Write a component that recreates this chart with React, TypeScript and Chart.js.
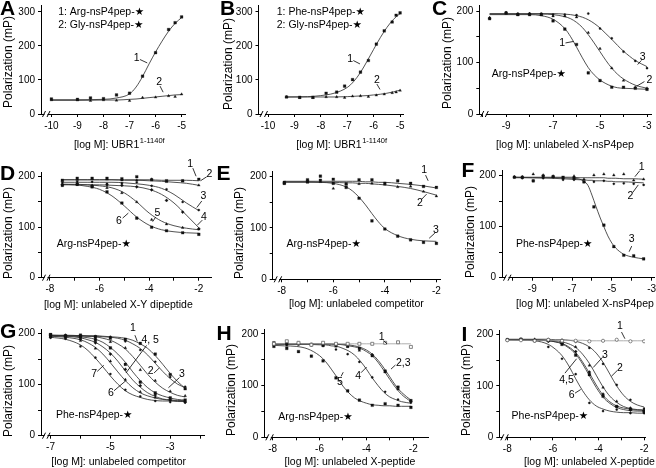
import React, { useEffect, useRef } from "react";
import { Chart, registerables } from "chart.js";

Chart.register(...registerables);

const FONT = "'Liberation Sans', Arial, Helvetica, 'DejaVu Sans', sans-serif";
const STAR = "\u2605";
const W = 656;
const H = 468;
const YW = 30;
const XH = 20;

// ---------- Panel A ----------
const A_X = [-10, -9, -8.5, -8, -7.5, -7, -6.5, -6, -5.5, -5.25, -5];
const A_ARG = [44, 43, 47, 45, 56, 61, 111, 180, 248, 268, 285];
const A_GLY = [41, 41, 39, 41, 40, 39, 48, 49, 53, 51, 58];
const A_FX = [-10, -9, -8, -7.5, -7, -6.75, -6.5, -6.25, -6, -5.75, -5.5, -5.25, -5];
const A_ARG_FIT = [42, 42, 43, 47, 59, 79, 110, 147, 182, 214, 243, 266, 283];
const A_GLY_FIT = [40, 40, 41, 41, 43, 44, 46, 48, 50, 52, 54, 56, 57];

// ---------- Panel B ----------
const B_X = [-9.3, -8.8, -8.3, -7.8, -7.4, -7.1, -6.8, -6.5, -6.2, -5.9, -5.6, -5.3, -5.15, -5];
const B_PHE = [50, 49, 49, 61, 64, 82, 101, 123, 157, 205, 244, 270, 290, 297];
const B_GLY = [50, 48, 48, 50, 50, 48, 52, 53, 51, 55, 58, 62, 64, 69];
const B_FX = [-9.3, -8.5, -8, -7.5, -7, -6.75, -6.5, -6.25, -6, -5.75, -5.5, -5.25, -5];
const B_PHE_FIT = [50, 51, 54, 61, 78, 96, 122, 155, 190, 224, 254, 278, 295];
const B_GLY_FIT = [50, 50, 50, 50, 51, 52, 53, 54, 56, 58, 61, 65, 70];

// ---------- Panel C ----------
const C_X = [-9.7, -9, -8.5, -8, -7.5, -7, -6.5, -6, -5.5, -5, -4.5, -4, -3.5, -3];
const C_S1 = [185, 196, 193, 193, 193, 181, 165, 135, 80, 65, 52, 52, 50, 48];
const C_S2 = [187, 197, 193, 195, 193, 190, 190, 188, 158, 127, 89, 65, 52, 50];
const C_S3 = [186, 197, 195, 195, 195, 193, 193, 192, 195, 166, 147, 121, 103, 89];
const C_FX = [-9.7, -9, -8, -7.5, -7, -6.5, -6.25, -6, -5.75, -5.5, -5.25, -5, -4.75, -4.5, -4.25, -4, -3.5, -3];
const C_FIT1 = [193, 193, 193, 191, 184, 166, 150, 130, 109, 90, 76, 66, 59, 54, 51, 50, 49, 48];
const C_FIT2 = [194, 194, 194, 194, 193, 189, 185, 178, 168, 154, 138, 121, 104, 89, 77, 68, 56, 50];
const C_FIT3 = [195, 195, 195, 195, 195, 194, 193, 191, 188, 183, 176, 167, 156, 145, 133, 122, 104, 92];

// ---------- Panel D ----------
const D_X = [-7.5, -6.9, -6.3, -5.7, -5.1, -4.5, -3.9, -3.3, -2.65, -2];
const D_S1 = [193, 197, 197, 197, 196, 200, 194, 192, 192, 195];
const D_S2 = [192, 194, 196, 195, 193, 193, 195, 190, 191, 183];
const D_S3 = [188, 190, 190, 186, 187, 189, 182, 175, 150, 134];
const D_S4 = [184, 185, 182, 184, 183, 180, 174, 153, 130, 97];
const D_S5 = [185, 186, 182, 178, 168, 150, 115, 106, 99, 96];
const D_S6 = [183, 185, 180, 170, 148, 118, 100, 93, 89, 86];
const D_FX = [-7.5, -7, -6.5, -6, -5.5, -5, -4.5, -4, -3.5, -3, -2.5, -2];
const D_FIT1 = [194, 194, 194, 194, 194, 194, 194, 194, 193, 193, 193, 192];
const D_FIT2 = [194, 194, 194, 194, 194, 193, 193, 192, 191, 189, 187, 183];
const D_FIT3 = [189, 189, 189, 189, 189, 188, 186, 183, 177, 165, 148, 133];
const D_FIT4 = [184, 184, 184, 184, 183, 182, 180, 175, 165, 148, 124, 99];
const D_FIT5 = [185, 185, 184, 182, 178, 168, 150, 128, 112, 103, 98, 95];
const D_FIT6 = [185, 184, 181, 175, 162, 142, 120, 104, 95, 91, 89, 88];

// ---------- Panel E ----------
const E_X = [-7.9, -7, -6.5, -6, -5.5, -5, -4.5, -4, -3.5, -3, -2.5, -2];
const E_S1 = [189, 194, 201, 195, 186, 194, 194, 187, 192, 187, 181, 179];
const E_S2 = [187, 189, 190, 177, 185, 186, 187, 185, 180, 181, 171, 162];
const E_S3 = [187, 190, 193, 187, 179, 158, 114, 98, 84, 77, 72, 70];
const E_FX = [-7.9, -7, -6.5, -6, -5.5, -5.25, -5, -4.75, -4.5, -4.25, -4, -3.5, -3, -2.5, -2];
const E_FIT1 = [191, 191, 191, 191, 191, 191, 191, 190, 190, 189, 189, 187, 185, 182, 178];
const E_FIT2 = [189, 189, 189, 189, 188, 188, 187, 187, 186, 185, 184, 181, 177, 171, 164];
const E_FIT3 = [190, 190, 189, 187, 180, 172, 160, 145, 128, 112, 99, 85, 78, 75, 74];

// ---------- Panel F ----------
const F_X = [-9.9, -9.5, -8.95, -8.45, -7.95, -7.45, -6.9, -6.4, -5.9, -5.4, -4.9, -4.4, -3.9, -3.4];
const F_S1 = [198, 198, 203, 201, 199, 195, 199, 193, 201, 203, 201, 203, 191, 193];
const F_S2 = [197, 195, 190, 195, 197, 192, 192, 188, 188, 190, 184, 185, 184, 182];
const F_S3 = [197, 197, 190, 199, 198, 197, 195, 188, 139, 103, 61, 44, 43, 37];
const F_FX = [-9.9, -9, -8, -7, -6.6, -6.4, -6.2, -6, -5.8, -5.6, -5.4, -5.2, -5, -4.8, -4.4, -3.9, -3.4];
const F_FIT1 = [197, 197, 197, 197, 196, 196, 196, 196, 196, 196, 196, 195, 195, 195, 194, 194, 193];
const F_FIT2 = [197, 196, 195, 193, 192, 192, 191, 191, 190, 190, 190, 189, 189, 188, 188, 187, 186];
const F_FIT3 = [196, 196, 196, 195, 193, 189, 181, 162, 140, 119, 100, 82, 68, 58, 46, 40, 37];

// ---------- Panel G ----------
const G_X = [-7, -6.5, -6, -5.5, -5, -4.5, -4, -3.5, -3, -2.5];
const G_S1 = [198, 195, 197, 194, 191, 189, 181, 160, 120, 92];
const G_S2 = [195, 197, 193, 191, 184, 172, 129, 108, 87, 78];
const G_S3 = [194, 196, 196, 195, 194, 185, 168, 145, 115, 96];
const G_S4 = [198, 196, 193, 187, 172, 140, 105, 84, 74, 70];
const G_S5 = [193, 194, 189, 182, 160, 130, 98, 80, 70, 66];
const G_S6 = [195, 192, 186, 171, 146, 110, 86, 75, 70, 67];
const G_S7 = [192, 190, 175, 153, 121, 90, 77, 68, 66, 65];
const G_FX = [-7, -6.5, -6, -5.75, -5.5, -5.25, -5, -4.75, -4.5, -4.25, -4, -3.75, -3.5, -3.25, -3, -2.75, -2.5];
const G_FIT1 = [196, 196, 196, 196, 196, 195, 194, 193, 191, 187, 180, 171, 157, 140, 122, 106, 93];
const G_FIT2 = [197, 197, 196, 195, 194, 191, 187, 180, 170, 155, 138, 120, 105, 93, 85, 79, 76];
const G_FIT3 = [196, 196, 196, 195, 195, 194, 193, 191, 187, 180, 171, 158, 142, 126, 112, 101, 94];
const G_FIT4 = [197, 196, 194, 192, 189, 183, 173, 160, 144, 125, 108, 94, 84, 78, 74, 71, 70];
const G_FIT5 = [196, 195, 192, 188, 183, 174, 162, 146, 127, 109, 95, 84, 77, 72, 70, 68, 67];
const G_FIT6 = [195, 193, 188, 182, 173, 160, 143, 125, 108, 94, 84, 78, 74, 71, 70, 69, 69];
const G_FIT7 = [193, 189, 178, 167, 152, 135, 117, 101, 88, 80, 75, 71, 69, 68, 68, 67, 67];

// ---------- Panel H ----------
const H_X = [-7.95, -7.4, -6.9, -6.35, -5.85, -5.3, -4.8, -4.3, -3.75, -3.2, -2.65, -2.1];
const H_S1 = [181, 186, 183, 179, 183, 181, 181, 181, 181, 183, 184, 175];
const H_S2 = [183, 182, 181, 180, 178, 179, 177, 172, 158, 128, 97, 71];
const H_S3 = [180, 178, 183, 180, 180, 176, 175, 168, 160, 126, 93, 70];
const H_S4 = [178, 181, 180, 178, 177, 170, 161, 146, 116, 88, 73, 67];
const H_S5 = [176, 172, 166, 157, 148, 115, 90, 72, 62, 65, 62, 58];
const H_FX = [-7.95, -7.5, -7, -6.5, -6, -5.75, -5.5, -5.25, -5, -4.75, -4.5, -4.25, -4, -3.75, -3.5, -3.25, -3, -2.75, -2.5, -2.1];
const H_FIT1 = [181, 181, 181, 181, 181, 181, 181, 181, 181, 181, 181, 181, 181, 181, 181, 181, 181, 181, 181, 181];
const H_FIT2 = [181, 181, 181, 181, 181, 181, 181, 180, 180, 179, 177, 174, 169, 161, 149, 134, 117, 100, 87, 72];
const H_FIT3 = [180, 180, 180, 180, 180, 180, 180, 180, 179, 177, 175, 172, 166, 158, 145, 129, 112, 96, 83, 69];
const H_FIT4 = [180, 180, 180, 180, 179, 179, 177, 176, 172, 167, 159, 147, 132, 115, 100, 87, 78, 73, 69, 66];
const H_FIT5 = [178, 177, 176, 171, 158, 147, 132, 116, 99, 86, 76, 70, 66, 63, 62, 61, 61, 60, 60, 60];

// ---------- Panel I ----------
const I_X = [-8, -7.4, -6.8, -6.2, -5.6, -5, -4.4, -3.8, -3.2, -2.6, -2];
const I_S1 = [189, 189, 188, 190, 188, 188, 187, 188, 190, 187, 187];
const I_S2 = [191, 192, 189, 191, 190, 186, 174, 143, 102, 73, 56];
const I_S3 = [189, 190, 191, 188, 184, 176, 140, 97, 70, 57, 52];
const I_S4 = [190, 191, 188, 189, 181, 160, 122, 80, 60, 55, 50];
const I_S5 = [189, 190, 190, 187, 184, 167, 127, 84, 60, 53, 52];
const I_S6 = [190, 191, 187, 176, 153, 123, 67, 51, 54, 47, 47];
const I_FX = [-8, -7.4, -6.8, -6.2, -5.9, -5.6, -5.3, -5, -4.7, -4.4, -4.1, -3.8, -3.5, -3.2, -2.9, -2.6, -2.3, -2];
const I_FIT1 = [189, 189, 189, 189, 189, 189, 189, 189, 189, 188, 188, 188, 188, 188, 188, 188, 188, 188];
const I_FIT2 = [191, 191, 191, 191, 190, 190, 189, 187, 183, 176, 164, 146, 123, 100, 82, 70, 63, 59];
const I_FIT3 = [190, 190, 190, 189, 188, 186, 182, 175, 162, 144, 121, 98, 80, 68, 60, 56, 54, 53];
const I_FIT4 = [190, 190, 189, 188, 186, 182, 174, 162, 143, 120, 97, 78, 66, 58, 54, 52, 51, 51];
const I_FIT5 = [190, 190, 190, 188, 186, 183, 176, 165, 147, 125, 102, 82, 69, 61, 57, 55, 53, 53];
const I_FIT6 = [190, 189, 188, 181, 172, 159, 139, 114, 91, 73, 61, 55, 51, 49, 48, 48, 47, 47];

// ---------- marker styles ----------
type Mark = { style: string; r: number; hollow?: boolean; color?: string; line?: string };
const M_SQ: Mark = { style: "rect", r: 1.9 };
const M_TRI: Mark = { style: "triangle", r: 1.6 };
const M_DOT: Mark = { style: "circle", r: 1.1 };
const M_DIA: Mark = { style: "rectRot", r: 1.6 };
const M_OSQ: Mark = { style: "rect", r: 2.1, hollow: true, color: "#666", line: "#a0a0a0" };
const M_OCI: Mark = { style: "circle", r: 1.6, hollow: true, color: "#666", line: "#a0a0a0" };

type Series = { x: number[]; y: number[]; fx: number[]; fy: number[]; mark: Mark };
type Note = { t: string; x: number; y: number; a?: "left" | "center" };
type Panel = {
  letter: string; lx: number; ly: number;
  ax: number; ay: number; at: number; ar: number;
  xMin: number; xMax: number; yMax: number; yStep: number; xLab: "all" | "odd" | "even";
  ytx: number; yty: number; xtx: number; xty: number; xTitle: string; xSup?: string;
  series: Series[]; notes: Note[]; leads: number[][];
};

const ser = (x: number[], y: number[], fx: number[], fy: number[], mark: Mark): Series => ({ x, y, fx, fy, mark });

const PANELS: Panel[] = [
  {
    letter: "A", lx: 0, ly: 15, ax: 41, ay: 114, at: 5, ar: 185,
    xMin: -10.4, xMax: -4.87, yMax: 320, yStep: 100, xLab: "all",
    ytx: 9, yty: 62, xtx: 119.3, xty: 145, xTitle: "[log M]: UBR1", xSup: "1-1140f",
    series: [ser(A_X, A_ARG, A_FX, A_ARG_FIT, M_SQ), ser(A_X, A_GLY, A_FX, A_GLY_FIT, M_TRI)],
    notes: [
      { t: `1: Arg-nsP4pep-${STAR}`, x: -9.74, y: 300, a: "left" },
      { t: `2: Gly-nsP4pep-${STAR}`, x: -9.74, y: 261, a: "left" },
      { t: "1", x: -6.73, y: 163 },
      { t: "2", x: -5.86, y: 95 },
    ],
    leads: [[-6.6, 160, -6.32, 150], [-5.83, 82, -5.71, 64]],
  },
  {
    letter: "B", lx: 220, ly: 15, ax: 258.5, ay: 114, at: 5, ar: 403,
    xMin: -10.36, xMax: -4.89, yMax: 320, yStep: 100, xLab: "all",
    ytx: 228.3, yty: 64, xtx: 341.7, xty: 145, xTitle: "[log M]: UBR1", xSup: "1-1140f",
    series: [ser(B_X, B_PHE, B_FX, B_PHE_FIT, M_SQ), ser(B_X, B_GLY, B_FX, B_GLY_FIT, M_TRI)],
    notes: [
      { t: `1: Phe-nsP4pep-${STAR}`, x: -9.67, y: 300, a: "left" },
      { t: `2: Gly-nsP4pep-${STAR}`, x: -9.67, y: 261, a: "left" },
      { t: "1", x: -6.89, y: 160 },
      { t: "2", x: -5.88, y: 100 },
    ],
    leads: [[-6.77, 157, -6.52, 147], [-5.88, 88, -5.76, 72]],
  },
  {
    letter: "C", lx: 432, ly: 15, ax: 479.3, ay: 114, at: 5, ar: 651,
    xMin: -10.14, xMax: -2.83, yMax: 211.7, yStep: 50, xLab: "odd",
    ytx: 448, yty: 63, xtx: 565, xty: 145, xTitle: "[log M]: unlabeled X-nsP4pep",
    series: [ser(C_X, C_S1, C_FX, C_FIT1, M_SQ), ser(C_X, C_S2, C_FX, C_FIT2, M_TRI), ser(C_X, C_S3, C_FX, C_FIT3, M_DOT)],
    notes: [
      { t: `Arg-nsP4pep-${STAR}`, x: -9.61, y: 78, a: "left" },
      { t: "1", x: -6.61, y: 137 },
      { t: "2", x: -2.9, y: 66 },
      { t: "3", x: -3.18, y: 111 },
    ],
    leads: [[-6.47, 138, -6.12, 141], [-3.44, 54, -3.11, 63], [-3.4, 96, -3.24, 104]],
  },
  {
    letter: "D", lx: 0, ly: 180, ax: 41, ay: 277.7, at: 172.7, ar: 211.7,
    xMin: -8.36, xMax: -1.48, yMax: 208, yStep: 50, xLab: "even",
    ytx: 9, yty: 233, xtx: 118.3, xty: 305, xTitle: "[log M]: unlabeled X-Y dipeptide",
    series: [
      ser(D_X, D_S1, D_FX, D_FIT1, M_SQ), ser(D_X, D_S2, D_FX, D_FIT2, M_TRI),
      ser(D_X, D_S3, D_FX, D_FIT3, M_DOT), ser(D_X, D_S4, D_FX, D_FIT4, M_DIA),
      ser(D_X, D_S5, D_FX, D_FIT5, M_TRI), ser(D_X, D_S6, D_FX, D_FIT6, M_SQ),
    ],
    notes: [
      { t: `Arg-nsP4pep-${STAR}`, x: -7.73, y: 66, a: "left" },
      { t: "1", x: -2.35, y: 226 }, { t: "2", x: -1.57, y: 205 }, { t: "3", x: -1.81, y: 162 },
      { t: "4", x: -1.79, y: 121 }, { t: "5", x: -3.67, y: 128 }, { t: "6", x: -5.22, y: 113 },
    ],
    leads: [
      [-2.24, 217, -2.11, 201], [-1.93, 192, -1.68, 200], [-2.08, 139, -1.88, 152],
      [-2.06, 104, -1.86, 114], [-3.86, 111, -3.74, 120], [-5.07, 118, -4.84, 128],
    ],
  },
  {
    letter: "E", lx: 216.5, ly: 180, ax: 272.7, ay: 279.3, at: 171.7, ar: 440,
    xMin: -8.35, xMax: -1.86, yMax: 209.7, yStep: 50, xLab: "even",
    ytx: 240, yty: 233, xtx: 356.3, xty: 304, xTitle: "[log M]: unlabeled competitor",
    series: [ser(E_X, E_S1, E_FX, E_FIT1, M_SQ), ser(E_X, E_S2, E_FX, E_FIT2, M_TRI), ser(E_X, E_S3, E_FX, E_FIT3, M_SQ)],
    notes: [
      { t: `Arg-nsP4pep-${STAR}`, x: -7.81, y: 68, a: "left" },
      { t: "1", x: -2.47, y: 212 }, { t: "2", x: -2.64, y: 148 }, { t: "3", x: -2.02, y: 95 },
    ],
    leads: [[-2.42, 203, -2.32, 192], [-2.57, 156, -2.38, 166], [-2.28, 80, -2.06, 90]],
  },
  {
    letter: "F", lx: 461.5, ly: 177, ax: 502, ay: 277.7, at: 170.7, ar: 654,
    xMin: -10.52, xMax: -2.88, yMax: 209.8, yStep: 50, xLab: "odd",
    ytx: 471, yty: 232, xtx: 585, xty: 304, xTitle: "[log M]: unlabeled X-nsP4pep",
    series: [ser(F_X, F_S1, F_FX, F_FIT1, M_TRI), ser(F_X, F_S2, F_FX, F_FIT2, M_DOT), ser(F_X, F_S3, F_FX, F_FIT3, M_SQ)],
    notes: [
      { t: `Phe-nsP4pep-${STAR}`, x: -9.82, y: 65.5, a: "left" },
      { t: "1", x: -3.5, y: 217 }, { t: "2", x: -4.06, y: 160 }, { t: "3", x: -4.0, y: 75 },
    ],
    leads: [[-3.84, 198, -3.59, 210], [-3.95, 167, -3.67, 182], [-4.13, 51, -4.0, 62]],
  },
  {
    letter: "G", lx: 0, ly: 338, ax: 41, ay: 435.7, at: 329.7, ar: 204,
    xMin: -7.32, xMax: -1.87, yMax: 207.8, yStep: 50, xLab: "odd",
    ytx: 8.5, yty: 391, xtx: 118.7, xty: 462, xTitle: "[log M]: unlabeled competitor",
    series: [
      ser(G_X, G_S1, G_FX, G_FIT1, M_SQ), ser(G_X, G_S2, G_FX, G_FIT2, M_TRI),
      ser(G_X, G_S3, G_FX, G_FIT3, M_DOT), ser(G_X, G_S4, G_FX, G_FIT4, M_SQ),
      ser(G_X, G_S5, G_FX, G_FIT5, M_DIA), ser(G_X, G_S6, G_FX, G_FIT6, M_TRI),
      ser(G_X, G_S7, G_FX, G_FIT7, M_DOT),
    ],
    notes: [
      { t: `Phe-nsP4pep-${STAR}`, x: -6.82, y: 40, a: "left" },
      { t: "1", x: -4.25, y: 210 }, { t: "4, 5", x: -3.67, y: 188 }, { t: "2", x: -3.65, y: 126 },
      { t: "3", x: -2.61, y: 121 }, { t: "7", x: -5.54, y: 121 }, { t: "6", x: -4.98, y: 84 },
    ],
    leads: [
      [-4.18, 197, -4.1, 185], [-3.79, 177, -4.48, 123], [-3.54, 123, -3.36, 133],
      [-2.69, 114, -3.06, 94], [-5.44, 126, -5.22, 138], [-4.88, 88, -4.48, 108],
    ],
  },
  {
    letter: "H", lx: 216.5, ly: 340, ax: 264.3, ay: 437.3, at: 329.7, ar: 428,
    xMin: -8.36, xMax: -1.37, yMax: 208.3, yStep: 50, xLab: "even",
    ytx: 231.7, yty: 390, xtx: 350, xty: 462, xTitle: "[log M]: unlabeled X-peptide",
    series: [
      ser(H_X, H_S1, H_FX, H_FIT1, M_OSQ), ser(H_X, H_S2, H_FX, H_FIT2, M_SQ),
      ser(H_X, H_S3, H_FX, H_FIT3, M_TRI), ser(H_X, H_S4, H_FX, H_FIT4, M_DOT),
      ser(H_X, H_S5, H_FX, H_FIT5, M_SQ),
    ],
    notes: [
      { t: `Arg-nsP4pep-${STAR}`, x: -7.76, y: 39, a: "left" },
      { t: "1", x: -3.35, y: 194 }, { t: "2,3", x: -2.43, y: 144 },
      { t: "4", x: -4.35, y: 118 }, { t: "5", x: -5.13, y: 107 },
    ],
    leads: [[-3.27, 187, -3.12, 181], [-2.95, 132, -2.76, 140], [-4.23, 125, -3.99, 136], [-5.08, 118, -4.99, 126]],
  },
  {
    letter: "I", lx: 461.5, ly: 341, ax: 499.3, ay: 437.3, at: 330, ar: 645,
    xMin: -8.35, xMax: -1.96, yMax: 209, yStep: 50, xLab: "even",
    ytx: 466.7, yty: 390, xtx: 589.5, xty: 462, xTitle: "[log M]: unlabeled X-peptide",
    series: [
      ser(I_X, I_S1, I_FX, I_FIT1, M_OCI), ser(I_X, I_S2, I_FX, I_FIT2, M_DOT),
      ser(I_X, I_S3, I_FX, I_FIT3, M_TRI), ser(I_X, I_S4, I_FX, I_FIT4, M_SQ),
      ser(I_X, I_S5, I_FX, I_FIT5, M_DIA), ser(I_X, I_S6, I_FX, I_FIT6, M_DOT),
    ],
    notes: [
      { t: `Phe-nsP4pep-${STAR}`, x: -7.81, y: 41, a: "left" },
      { t: "1", x: -3.06, y: 216 }, { t: "2", x: -3.06, y: 134 }, { t: "3", x: -3.72, y: 161 },
      { t: "4,5", x: -5.4, y: 112 }, { t: "6", x: -5.18, y: 82 },
    ],
    leads: [
      [-2.99, 205, -2.84, 192], [-3.43, 119, -3.18, 130], [-4.23, 136, -3.82, 156],
      [-5.47, 125, -4.96, 153], [-5.03, 86, -4.78, 93],
    ],
  },
];

function buildDatasets(p: Panel): any[] {
  const dots = p.series.map((s) => ({
    data: s.x.map((x, i) => ({ x, y: s.y[i] })),
    showLine: false,
    pointStyle: s.mark.style,
    pointRadius: s.mark.r,
    pointBorderWidth: s.mark.hollow ? 0.8 : 0.3,
    pointBackgroundColor: s.mark.hollow ? "#ffffff" : s.mark.color || "#111111",
    pointBorderColor: s.mark.color || "#111111",
    order: 0,
  }));
  const fits = p.series.map((s) => ({
    data: s.fx.map((x, i) => ({ x, y: s.fy[i] })),
    showLine: true,
    pointRadius: 0,
    borderColor: s.mark.line || "#333333",
    borderWidth: 0.85,
    cubicInterpolationMode: "monotone",
    fill: false,
    order: 1,
  }));
  return [...dots, ...fits];
}

function makeDecor(p: Panel) {
  return {
    id: "decor" + p.letter,
    afterDraw(chart: any) {
      const ctx = chart.ctx as CanvasRenderingContext2D;
      const xs = chart.scales.x;
      const ys = chart.scales.y;
      const area = chart.chartArea;
      ctx.save();
      // axis break
      const bx = area.left;
      const by = area.bottom;
      ctx.fillStyle = "#fff";
      ctx.fillRect(bx + 3.5, by - 1.5, 3, 3);
      ctx.strokeStyle = "#000";
      ctx.lineWidth = 1;
      ctx.beginPath();
      ctx.moveTo(bx + 1.5, by + 3);
      ctx.lineTo(bx + 4.5, by - 3);
      ctx.moveTo(bx + 6, by + 3);
      ctx.lineTo(bx + 9, by - 3);
      ctx.stroke();
      ctx.fillStyle = "#000";
      // panel letter
      ctx.font = `bold 21px ${FONT}`;
      ctx.textAlign = "left";
      ctx.textBaseline = "alphabetic";
      ctx.fillText(p.letter, p.lx, p.ly);
      // y title
      ctx.save();
      ctx.translate(p.ytx, p.yty);
      ctx.rotate(-Math.PI / 2);
      ctx.font = `12px ${FONT}`;
      ctx.textAlign = "center";
      ctx.textBaseline = "middle";
      ctx.fillText("Polarization (mP)", 0, 0);
      ctx.restore();
      // x title
      ctx.textAlign = "left";
      ctx.textBaseline = "middle";
      ctx.font = `10.5px ${FONT}`;
      const w1 = ctx.measureText(p.xTitle).width;
      let w2 = 0;
      if (p.xSup) {
        ctx.font = `7.5px ${FONT}`;
        w2 = ctx.measureText(p.xSup).width + 0.5;
      }
      const sx = p.xtx - (w1 + w2) / 2;
      ctx.font = `10.5px ${FONT}`;
      ctx.fillText(p.xTitle, sx, p.xty);
      if (p.xSup) {
        ctx.font = `7.5px ${FONT}`;
        ctx.fillText(p.xSup, sx + w1 + 0.5, p.xty - 4);
      }
      // leader lines
      ctx.lineWidth = 0.8;
      ctx.beginPath();
      for (const l of p.leads) {
        ctx.moveTo(xs.getPixelForValue(l[0]), ys.getPixelForValue(l[1]));
        ctx.lineTo(xs.getPixelForValue(l[2]), ys.getPixelForValue(l[3]));
      }
      ctx.stroke();
      // notes
      ctx.font = `10.5px ${FONT}`;
      ctx.textBaseline = "middle";
      for (const n of p.notes) {
        ctx.textAlign = n.a === "left" ? "left" : "center";
        ctx.fillText(n.t, xs.getPixelForValue(n.x), ys.getPixelForValue(n.y));
      }
      ctx.restore();
    },
  };
}

function zeroPad(s: any) {
  s.paddingLeft = 0;
  s.paddingRight = 0;
  s.paddingTop = 0;
  s.paddingBottom = 0;
}

function PanelChart({ p }: { p: Panel }) {
  const ref = useRef<HTMLCanvasElement>(null);
  useEffect(() => {
    const canvas = ref.current;
    if (!canvas) return;
    const grid = { display: true, drawOnChartArea: false, drawTicks: true, tickLength: 3, color: "#000", lineWidth: 1 };
    const border = { display: true, color: "#000", width: 1 };
    const chart = new Chart(canvas, {
      type: "scatter",
      data: { datasets: buildDatasets(p) },
      options: {
        responsive: false,
        maintainAspectRatio: false,
        animation: false,
        events: [],
        layout: {
          autoPadding: false,
          padding: { left: p.ax - YW, top: p.at, right: W - p.ar, bottom: H - p.ay - XH },
        },
        plugins: { legend: { display: false }, tooltip: { enabled: false }, title: { display: false } },
        scales: {
          x: {
            type: "linear",
            min: p.xMin,
            max: p.xMax,
            afterFit: (s: any) => { s.height = XH; zeroPad(s); },
            grid,
            border,
            ticks: {
              stepSize: 1,
              includeBounds: false,
              autoSkip: false,
              maxRotation: 0,
              minRotation: 0,
              padding: 3,
              color: "#000",
              font: { family: FONT, size: 10 },
              callback: (v: any) => {
                const n = Math.round(Number(v));
                if (p.xLab === "all") return String(n);
                const odd = Math.abs(n) % 2 === 1;
                return (p.xLab === "odd") === odd ? String(n) : "";
              },
            },
          },
          y: {
            type: "linear",
            min: 0,
            max: p.yMax,
            afterFit: (s: any) => { s.width = YW; zeroPad(s); },
            grid,
            border,
            ticks: {
              stepSize: p.yStep,
              includeBounds: false,
              autoSkip: false,
              padding: 3,
              color: "#000",
              font: { family: FONT, size: 10 },
              callback: (v: any) => (Math.round(Number(v)) % 100 === 0 ? String(Math.round(Number(v))) : ""),
            },
          },
        },
      } as any,
      plugins: [makeDecor(p)],
    });
    return () => chart.destroy();
  }, [p]);
  return (
    <canvas
      ref={ref}
      width={W}
      height={H}
      style={{ position: "absolute", left: 0, top: 0, width: W, height: H, display: "block" }}
    />
  );
}

export default function App() {
  Chart.defaults.font.family = FONT;
  Chart.defaults.color = "#000";
  return (
    <div style={{ position: "absolute", left: 0, top: 0, width: W, height: H, background: "#fff", overflow: "hidden" }}>
      {PANELS.map((p) => (
        <PanelChart key={p.letter} p={p} />
      ))}
    </div>
  );
}
